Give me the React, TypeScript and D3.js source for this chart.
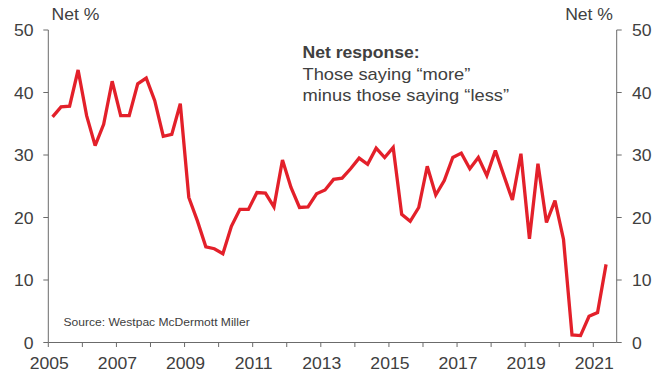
import React from "react";
import * as d3 from "d3";

const startYear = 2005;
const values: number[] = [
  36.1, 37.7, 37.8, 43.6,
  36.3, 31.5, 34.9, 41.8,
  36.3, 36.3, 41.4, 42.3,
  38.7, 33.0, 33.3, 38.2,
  23.2, 19.5, 15.3, 15.0,
  14.2, 18.6, 21.3, 21.3,
  24.0, 23.9, 21.7, 29.2,
  24.8, 21.6, 21.7, 23.8,
  24.4, 26.1, 26.3, 27.8,
  29.5, 28.5, 31.1, 29.6,
  31.2, 20.5, 19.4, 21.6,
  28.2, 23.6, 25.9, 29.6,
  30.3, 27.8, 29.6, 26.7,
  30.7, 26.7, 22.8, 30.2,
  16.6, 28.6, 19.2, 22.7,
  16.5, 1.2, 1.1, 4.2,
  4.8, 12.5,
];
const yearTicks: number[] = d3.range(2005, 2022);
const yearLabels: number[] = [2005, 2007, 2009, 2011, 2013, 2015, 2017, 2019, 2021];
const yTicks: number[] = [0, 10, 20, 30, 40, 50];
const axisTitle = "Net %";
const noteLines: string[] = ["Net response:", "Those saying \u201cmore\u201d", "minus those saying \u201cless\u201d"];
const source = "Source: Westpac McDermott Miller";

const W = 667;
const H = 378;
const SX = 1.1;
const FONT = "'Liberation Sans', Arial, sans-serif";
const TXT = "#404040";
const AX = "#6b6b6b";

function T(props: { x: number; y: number; anchor?: string; size?: number; weight?: string; sx?: number; children: any }) {
  const { x, y, anchor = "start", size = 16, weight = "normal", sx = SX, children } = props;
  return (
    <text
      transform={`translate(${x},${y}) scale(${sx},1)`}
      textAnchor={anchor}
      fontSize={size}
      fontWeight={weight}
      fontFamily={FONT}
      fill={TXT}
    >
      {children}
    </text>
  );
}

export default function App() {
  const x = d3.scaleLinear().domain([2005, 2021]).range([48.3, 593.3]);
  const y = d3.scaleLinear().domain([0, 50]).range([342.5, 30]);
  const xLeft = 48.3;
  const xRight = 616.7;

  const pts = values.map((v, i) => ({ t: startYear + 0.125 + i * 0.25, v }));
  const line = d3
    .line<{ t: number; v: number }>()
    .x((d) => x(d.t))
    .y((d) => y(d.v));

  return (
    <svg width={W} height={H} style={{ position: "absolute", left: 0, top: 0, background: "#fff" }}>
      <rect width={W} height={H} fill="#fff" />
      {/* axes */}
      <line x1={xLeft} x2={xLeft} y1={y(50)} y2={y(0)} stroke={AX} strokeWidth={1} />
      <line x1={xRight} x2={xRight} y1={y(50)} y2={y(0)} stroke={AX} strokeWidth={1} />
      <line x1={xLeft} x2={xRight} y1={y(0)} y2={y(0)} stroke={AX} strokeWidth={1} />
      {yTicks.map((t) => (
        <g key={"yt" + t}>
          <line x1={xLeft - 5} x2={xLeft} y1={y(t)} y2={y(t)} stroke={AX} />
          <line x1={xRight} x2={xRight + 5} y1={y(t)} y2={y(t)} stroke={AX} />
          <T x={33.5} y={y(t) + 6} anchor="end">{t}</T>
          <T x={632} y={y(t) + 6}>{t}</T>
        </g>
      ))}
      {yearTicks.map((t) => (
        <line key={"xt" + t} x1={x(t)} x2={x(t)} y1={y(0)} y2={y(0) + 4.5} stroke={AX} />
      ))}
      {yearLabels.map((t) => (
        <T key={"xl" + t} x={x(t) + 1} y={369} anchor="middle">{t}</T>
      ))}
      <T x={51.5} y={20}>{axisTitle}</T>
      <T x={613} y={20} anchor="end">{axisTitle}</T>
      {/* annotation */}
      <T x={302.5} y={57.5} weight="bold">{noteLines[0]}</T>
      <T x={302.5} y={79.5} sx={1.145}>{noteLines[1]}</T>
      <T x={302.5} y={101} sx={1.145}>{noteLines[2]}</T>
      <T x={63.5} y={326} size={11.5} sx={1.05}>{source}</T>
      {/* data */}
      <path d={line(pts) || ""} fill="none" stroke="#E3202A" strokeWidth={3.3} strokeLinejoin="miter" strokeMiterlimit={3} />
    </svg>
  );
}
